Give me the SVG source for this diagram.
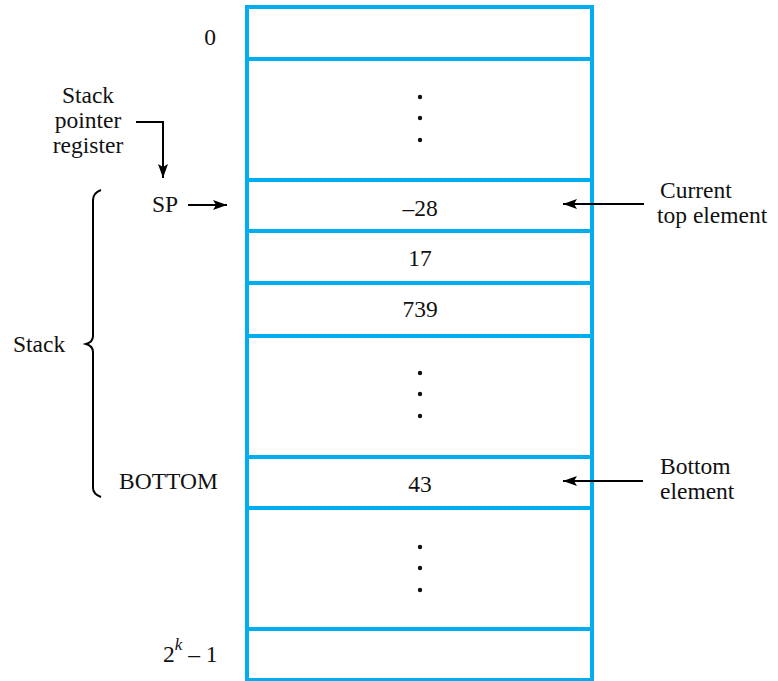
<svg xmlns="http://www.w3.org/2000/svg" width="778" height="681" viewBox="0 0 778 681">
<style>
.t{font-family:"Liberation Serif","Times New Roman",serif;font-size:23.5px;fill:#111}
.m{text-anchor:middle}
.cell{fill:none;stroke:#00AEEF;stroke-width:4}
.ln{fill:none;stroke:#000;stroke-width:2}
.dot{fill:#111}
</style>
<defs>
<marker id="ah" markerWidth="14" markerHeight="10" refX="14" refY="5" orient="auto" markerUnits="userSpaceOnUse">
<path d="M0,0 L14,5 L0,10 L3,5 Z" fill="#000"/>
</marker>
</defs>
<rect width="778" height="681" fill="#fff"/>
<g id="memory">
<rect class="cell" x="247" y="7" width="345" height="673"/>
<line class="cell" x1="247" y1="59" x2="592" y2="59"/>
<line class="cell" x1="247" y1="180" x2="592" y2="180"/>
<line class="cell" x1="247" y1="231" x2="592" y2="231"/>
<line class="cell" x1="247" y1="283" x2="592" y2="283"/>
<line class="cell" x1="247" y1="336" x2="592" y2="336"/>
<line class="cell" x1="247" y1="457" x2="592" y2="457"/>
<line class="cell" x1="247" y1="508" x2="592" y2="508"/>
<line class="cell" x1="247" y1="629" x2="592" y2="629"/>
</g>
<g id="cell-values">
<text class="t m" x="420" y="216">–28</text>
<text class="t m" x="420" y="266">17</text>
<text class="t m" x="420" y="317">739</text>
<text class="t m" x="420" y="492">43</text>
</g>
<g id="dots">
<circle class="dot" cx="420" cy="97" r="2.2"/>
<circle class="dot" cx="420" cy="118" r="2.2"/>
<circle class="dot" cx="420" cy="140" r="2.2"/>
<circle class="dot" cx="420" cy="373" r="2.2"/>
<circle class="dot" cx="420" cy="394" r="2.2"/>
<circle class="dot" cx="420" cy="416" r="2.2"/>
<circle class="dot" cx="420" cy="547" r="2.2"/>
<circle class="dot" cx="420" cy="568" r="2.2"/>
<circle class="dot" cx="420" cy="590" r="2.2"/>
</g>
<g id="labels">
<text class="t m" x="210" y="45">0</text>
<text class="t m" x="88" y="103">Stack</text>
<text class="t m" x="88" y="128">pointer</text>
<text class="t m" x="88" y="153">register</text>
<text class="t" x="152" y="212">SP</text>
<text class="t" x="13" y="352">Stack</text>
<text class="t" x="119" y="489">BOTTOM</text>
<text class="t" x="163" y="662">2<tspan font-style="italic" font-size="17" dy="-12">k</tspan><tspan dy="12"> – 1</tspan></text>
<text class="t" x="660" y="198">Current</text>
<text class="t" x="657" y="223">top element</text>
<text class="t" x="660" y="474">Bottom</text>
<text class="t" x="660" y="499">element</text>
</g>
<g id="connectors">
<path class="ln" d="M136,122 H163 V178" marker-end="url(#ah)"/>
<path class="ln" d="M188,205 H227" marker-end="url(#ah)"/>
<path class="ln" d="M644,204 H563" marker-end="url(#ah)"/>
<path class="ln" d="M643,481 H563" marker-end="url(#ah)"/>
<path class="ln" d="M101,190 Q93,193 93,200 V336 Q93,342 86,344 Q93,346 93,352 V488 Q93,494 101,497"/>
</g>
</svg>
